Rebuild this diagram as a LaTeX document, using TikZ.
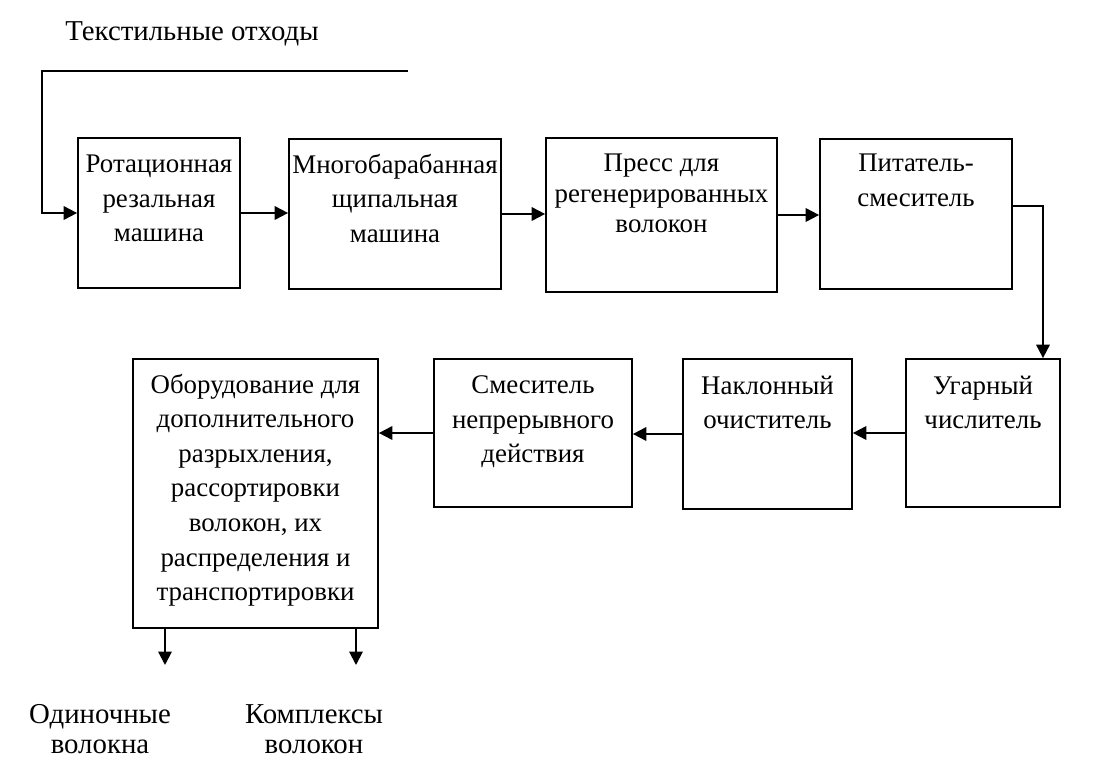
\documentclass[tikz,border=0pt]{standalone}
\usepackage{fontspec}
\setmainfont{Liberation Serif}
\usetikzlibrary{arrows.meta,fit}
\begin{document}
\begin{tikzpicture}[x=0.0183cm,y=-0.0183cm,
		every node/.style={font=\fontsize{14pt}{18pt}\selectfont},
		box/.style={draw,line width=0.9pt,inner sep=0pt},
		txt/.style={align=center,anchor=north,inner sep=3pt,execute at begin node=\strut},
		outtxt/.style={txt,font=\fontsize{15pt}{16pt}\selectfont},
		arr/.style={line width=1pt,-{Triangle[length=7pt,width=7pt]}}]
		\useasboundingbox (0,0) rectangle (1098,783);

		% Title
		\node[anchor=base,font=\fontsize{15pt}{18pt}\selectfont] (title) at (192,40) {Текстильные отходы};

		% First row
		\node[box,fit={(78,138) (240,288)}] (b1) {};
		\node[box,fit={(289,139) (501,289)}] (b2) {};
		\node[box,fit={(546,138) (777,292)}] (b3) {};
		\node[box,fit={(820,139) (1012,289)}] (b4) {};
		\node[txt] (t1) at ([yshift=-6pt]b1.north) {Ротационная\\резальная\\машина};
		\node[txt] (t2) at ([yshift=-5pt]b2.north) {Многобарабанная\\щипальная\\машина};
		\node[txt,font=\fontsize{14pt}{16pt}\selectfont] (t3) at ([yshift=-5.5pt]b3.north) {Пресс для\\регенерированных\\волокон};
		\node[txt] (t4) at ([yshift=-5pt]b4.north) {Питатель-\\смеситель};

		% Second row
		\node[box,fit={(906,359) (1060,507)}] (b5) {};
		\node[box,fit={(683,359) (852,509)}] (b6) {};
		\node[box,fit={(434,359) (632,507)}] (b7) {};
		\node[box,fit={(133,359) (378,628)}] (b8) {};
		\node[txt] (t5) at ([yshift=-6pt]b5.north) {Угарный\\числитель};
		\node[txt] (t6) at ([yshift=-6pt]b6.north) {Наклонный\\очиститель};
		\node[txt] (t7) at ([yshift=-6pt]b7.north) {Смеситель\\непрерывного\\действия};
		\node[txt] (t8) at ([yshift=-5pt]b8.north) {Оборудование для\\дополнительного\\разрыхления,\\рассортировки\\волокон, их\\распределения и\\транспортировки};

		% Outputs
		\node[outtxt] (o1) at (100,698) {Одиночные\\волокна};
		\node[outtxt] (o2) at (314,698) {Комплексы\\волокон};

		% Connectors
		\coordinate (inA) at (408,71);
		\coordinate (inB) at (42,71);
		\coordinate (turn) at (1043,206);
		\coordinate (d1) at (165,665);
		\coordinate (d2) at (356,665);
		\draw[arr] (inA) -- (inB) |- (b1.west);
		\draw[arr] (b1.east) -- (b1.east -| b2.west);
		\draw[arr] (b2.east) -- (b2.east -| b3.west);
		\draw[arr] (b3.east) -- (b3.east -| b4.west);
		\draw[arr] (b4.east |- turn) -- (turn) -- (turn |- b5.north);
		\draw[arr] (b5.west) -- (b5.west -| b6.east);
		\draw[arr] (b6.west) -- (b6.west -| b7.east);
		\draw[arr] (b7.west) -- (b7.west -| b8.east);
		\draw[arr] (b8.south -| d1) -- (d1);
		\draw[arr] (b8.south -| d2) -- (d2);
	\end{tikzpicture}
\end{document}
